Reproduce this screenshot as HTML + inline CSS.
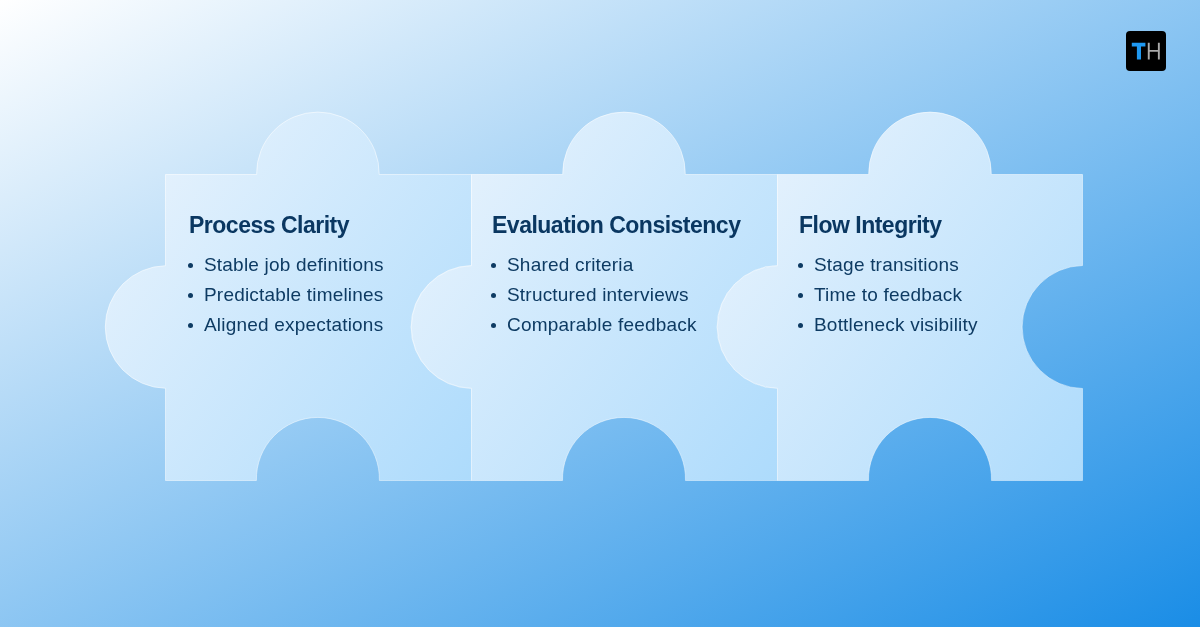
<!DOCTYPE html>
<html><head><meta charset="utf-8">
<style>
html,body{margin:0;padding:0;width:1200px;height:627px;overflow:hidden}
body{position:relative;font-family:"Liberation Sans",sans-serif;background:linear-gradient(to bottom right,#ffffff,#1a8de6)}
svg{position:absolute;left:0;top:0}
.t{position:absolute;will-change:transform;color:#0a3761;font-weight:bold;font-size:23px;letter-spacing:-0.5px;line-height:26px;white-space:nowrap}
.b{position:absolute;will-change:transform;color:#0e3b63;font-size:19px;line-height:30px;white-space:nowrap;letter-spacing:0.2px}
.b div{position:relative;padding-left:15px}
.b div:before{content:"";position:absolute;left:-1.5px;top:12.5px;width:5.6px;height:5.6px;border-radius:50%;background:#0e3b63}
.logo{position:absolute;left:1126px;top:31px;width:40px;height:40px;background:#000;border-radius:4px}
</style></head><body>
<svg width="1200" height="627" viewBox="0 0 1200 627">
<defs>
<linearGradient id="pg" x1="0" y1="0" x2="1.107" y2="0.861">
<stop offset="0" stop-color="rgb(237,245,253)" stop-opacity="1"/>
<stop offset="1" stop-color="rgb(173,219,252)" stop-opacity="1"/>
</linearGradient>
<linearGradient id="sg" x1="0" y1="0" x2="1" y2="1">
<stop offset="0" stop-color="#fff" stop-opacity="0.62"/>
<stop offset="1" stop-color="#fff" stop-opacity="0.4"/>
</linearGradient>
</defs>
<g fill="url(#pg)" stroke="url(#sg)" stroke-width="1">
<path d="M165.5 174.5H256.61A61.3 61.3 0 1 1 379.19 174.5H471.5V265.51A61.5 61.5 0 0 0 471.5 388.49V480.5H379.38A61.5 61.5 0 1 0 256.42 480.5H165.5V388.29A61.3 61.3 0 0 1 165.5 265.71Z"/>
<path d="M471.5 174.5H562.71A61.3 61.3 0 1 1 685.29 174.5H777.5V265.51A61.5 61.5 0 0 0 777.5 388.49V480.5H685.48A61.5 61.5 0 1 0 562.52 480.5H471.5V388.29A61.3 61.3 0 0 1 471.5 265.71Z"/>
<path d="M777.5 174.5H868.71A61.3 61.3 0 1 1 991.29 174.5H1082.5V265.51A61.5 61.5 0 0 0 1082.5 388.49V480.5H991.48A61.5 61.5 0 1 0 868.52 480.5H777.5V388.29A61.3 61.3 0 0 1 777.5 265.71Z"/>
</g>
</svg>
<div class="t" style="left:188.8px;top:212px">Process Clarity</div>
<div class="b" style="left:189px;top:250px"><div>Stable job definitions</div><div>Predictable timelines</div><div>Aligned expectations</div></div>
<div class="t" style="left:491.90000000000003px;top:212px">Evaluation Consistency</div>
<div class="b" style="left:492.1px;top:250px"><div>Shared criteria</div><div>Structured interviews</div><div>Comparable feedback</div></div>
<div class="t" style="left:798.9px;top:212px">Flow Integrity</div>
<div class="b" style="left:799.1px;top:250px"><div>Stage transitions</div><div>Time to feedback</div><div>Bottleneck visibility</div></div>
<div class="logo"><svg width="40" height="40" viewBox="0 0 40 40">
<path d="M5.8 11.8H19.4V15.4H15.0V28.4H10.9V15.4H5.8Z" fill="#1f98f0"/>
<path d="M21.8 11.8H23.7V18.9H31.9V11.8H33.8V28.4H31.9V20.8H23.7V28.4H21.8Z" fill="#ababab"/>
</svg></div>
</body></html>
